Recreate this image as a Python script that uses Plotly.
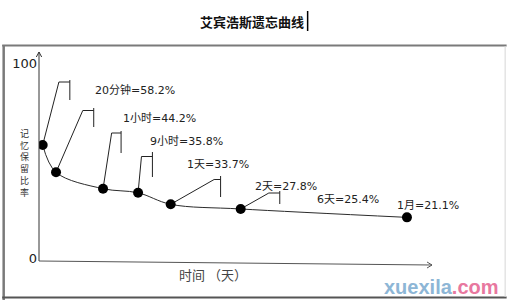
import numpy as np
import plotly.graph_objects as go

# Ebbinghaus forgetting curve: elapsed time and share of material retained
time_labels = ["20分钟", "1小时", "9小时", "1天", "2天", "6天", "1月"]
elapsed_minutes = [20, 60, 540, 1440, 2880, 8640, 44640]
retention_pct = [58.2, 44.2, 35.8, 33.7, 27.8, 25.4, 21.1]
y_tick_values = [0, 100]
y_tick_text = ["0", "100"]

# Figure geometry (pixels)
W, H = 507, 300
L, R, T, B = 37, 75, 52, 39
PW, PH = W - L - R, H - T - B

# Time axis is drawn on a cube-root scale so short and long intervals both fit
x_vals = np.cbrt(elapsed_minutes)
XR = [2.383, 37.727]
YR = [-1.28, 105.9]


def dx(px):
    return XR[0] + (px - L) / PW * (XR[1] - XR[0])


def dy(py):
    return YR[0] + (H - B - py) / PH * (YR[1] - YR[0])


def pxp(px):
    return (px - L) / PW


def pyp(py):
    return (H - B - py) / PH


# Callout placement: label centre, and flag (elbow x, elbow y, stem x, stem top, stem bottom)
label_pos = [(133, 90), (158, 118), (185, 141), (217, 164), (285, 187), (348, 199), (428, 205)]
flags = [
    (57, 82, 68, 80, 100),
    (81, 110.5, 92, 108, 127),
    (110, 133, 119.5, 131, 153),
    (140, 156.5, 151, 152, 177),
    (213, 179.5, 219.5, 176, 197),
    (268, 193, 279, 191, 204),
    None,
]

fig = go.Figure()
fig.add_trace(go.Scatter(
    x=x_vals, y=retention_pct, mode="lines+markers",
    line=dict(shape="spline", color="#2b2b2b", width=1),
    marker=dict(size=10, color="#000000"),
    hoverinfo="skip", showlegend=False,
))

shapes = []
annotations = []
ink = "#222222"

# Leader flags from each point
for xv, yv, fl in zip(x_vals, retention_pct, flags):
    if fl is None:
        continue
    ex, ey, hx, s0, s1 = fl
    shapes.append(dict(
        type="path", xref="x", yref="y", layer="below",
        path=f"M {xv},{yv} L {dx(ex)},{dy(ey)} L {dx(hx)},{dy(ey)}",
        line=dict(color=ink, width=1),
    ))
    shapes.append(dict(
        type="line", xref="x", yref="y", layer="below",
        x0=dx(hx), y0=dy(s0), x1=dx(hx), y1=dy(s1),
        line=dict(color=ink, width=1),
    ))

# Point labels
for name, val, (lx, ly) in zip(time_labels, retention_pct, label_pos):
    annotations.append(dict(
        text=f"{name}={val}%", xref="paper", yref="paper",
        x=pxp(lx), y=pyp(ly), xanchor="center", yanchor="middle",
        showarrow=False,
        font=dict(family="DejaVu Sans, Noto Sans CJK SC", size=11, color=ink),
    ))

# Axes with open arrowheads
axis_col = "#333333"
shapes += [
    dict(type="line", xref="paper", yref="paper",
         x0=pxp(37), y0=pyp(261), x1=pxp(37), y1=pyp(52),
         line=dict(color=axis_col, width=1)),
    dict(type="path", xref="paper", yref="paper",
         path=f"M {pxp(34.3)},{pyp(57)} L {pxp(37)},{pyp(52)} L {pxp(39.7)},{pyp(57)}",
         line=dict(color=axis_col, width=1)),
    dict(type="line", xref="paper", yref="paper",
         x0=pxp(37), y0=pyp(261), x1=pxp(432), y1=pyp(265),
         line=dict(color="#555555", width=1)),
    dict(type="path", xref="paper", yref="paper",
         path=f"M {pxp(427)},{pyp(262)} L {pxp(432)},{pyp(265)} L {pxp(427)},{pyp(268)}",
         line=dict(color="#555555", width=1)),
]

# Surrounding frame
shapes += [
    dict(type="line", xref="paper", yref="paper",
         x0=pxp(0), y0=pyp(45.5), x1=pxp(507), y1=pyp(45.5),
         line=dict(color="#7a7a7a", width=2)),
    dict(type="line", xref="paper", yref="paper",
         x0=pxp(1.5), y0=pyp(45), x1=pxp(1.5), y1=pyp(300),
         line=dict(color="#7a7a7a", width=2.5)),
    dict(type="line", xref="paper", yref="paper",
         x0=pxp(0), y0=pyp(297.5), x1=pxp(507), y1=pyp(297.5),
         line=dict(color="#555555", width=2)),
    dict(type="line", xref="paper", yref="paper",
         x0=pxp(505.5), y0=pyp(46), x1=pxp(505.5), y1=pyp(297),
         line=dict(color="#d6d6d6", width=1)),
    # text cursor after the heading
    dict(type="line", xref="paper", yref="paper",
         x0=pxp(307), y0=pyp(11), x1=pxp(307), y1=pyp(31),
         line=dict(color="#000000", width=1.5)),
]

# Heading
annotations.append(dict(
    text="<b>艾宾浩斯遗忘曲线</b>", xref="paper", yref="paper",
    x=pxp(251.5), y=pyp(21), xanchor="center", yanchor="middle", showarrow=False,
    font=dict(family="Noto Sans CJK SC", size=13, color="#111111"),
))

# Vertical axis title, stacked one character per row
annotations.append(dict(
    text="<br>".join("记忆保留比率"), xref="paper", yref="paper",
    x=pxp(22), y=pyp(163), xanchor="center", yanchor="middle",
    showarrow=False, align="center",
    font=dict(family="Noto Sans CJK SC", size=9, color="#333333"),
))

# Horizontal axis title
annotations.append(dict(
    text="时间 （天）", xref="paper", yref="paper",
    x=pxp(212), y=pyp(274), xanchor="center", yanchor="middle", showarrow=False,
    font=dict(family="Noto Sans CJK SC", size=13, color="#444444"),
))

# Site mark
annotations.append(dict(
    text="<span style='color:#8db6d6'>xuexila</span><span style='color:#e8789f'>.com</span>",
    xref="paper", yref="paper", x=pxp(441.5), y=pyp(287),
    xanchor="center", yanchor="middle", showarrow=False,
    font=dict(family="Liberation Sans", size=20, color="#8db6d6", weight="bold"),
))

fig.update_layout(
    width=W, height=H,
    margin=dict(l=L, r=R, t=T, b=B, pad=0),
    paper_bgcolor="#ffffff", plot_bgcolor="rgba(0,0,0,0)",
    xaxis=dict(range=XR, visible=False, fixedrange=True),
    yaxis=dict(
        range=YR, tickvals=y_tick_values, ticktext=y_tick_text,
        showgrid=False, zeroline=False, showline=False, ticks="",
        ticklabelstandoff=1,
        tickfont=dict(family="DejaVu Sans", size=13, color="#222222"),
        fixedrange=True,
    ),
    shapes=shapes, annotations=annotations,
)

fig.write_html("out.html")
